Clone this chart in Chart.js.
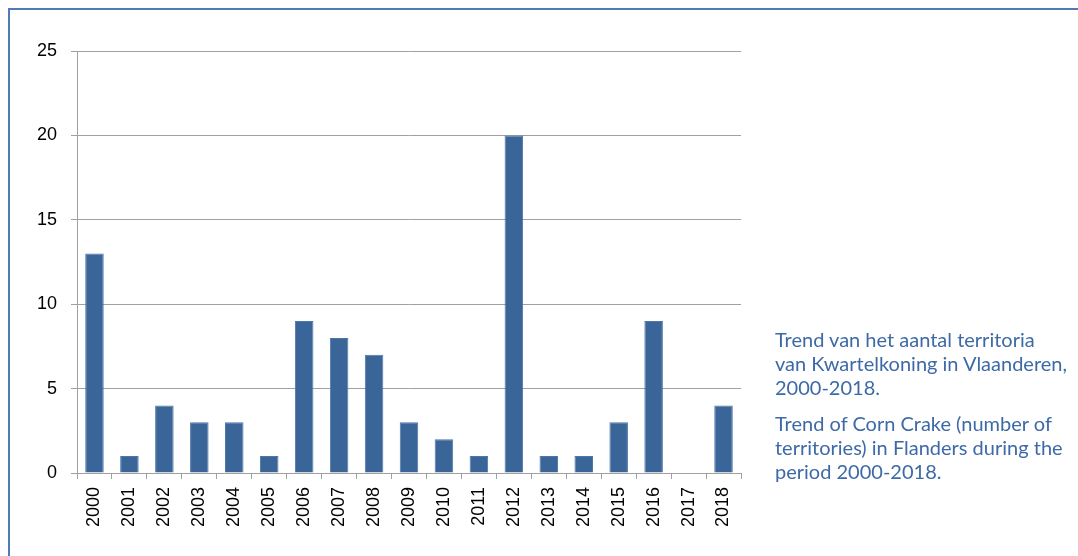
<!DOCTYPE html>
<html>
<head>
<meta charset="utf-8">
<script src="https://cdn.jsdelivr.net/npm/chart.js@4.4.0/dist/chart.umd.min.js"></script>
<style>
  html, body { margin: 0; padding: 0; background: #fff; overflow: hidden; }
  #wrap { position: relative; width: 1078px; height: 556px; }
  #frame { position: absolute; left: 8px; top: 8px; width: 1200px; height: 1000px;
           border-top: 2px solid #4f7bb8; border-left: 2px solid #4f7bb8; }
  #chart { position: absolute; left: 0; top: 0; }
  .note { position: absolute; left: 775px; width: 303px; font-family: Lato, sans-serif;
          font-size: 20px; line-height: 24px; color: #3d6aa6; white-space: nowrap; }
</style>
</head>
<body>
<div id="wrap">
  <div id="frame"></div>
  <canvas id="chart" width="1078" height="556"></canvas>
  <div class="note" style="top:327px">Trend van het aantal territoria<br>van Kwartelkoning in Vlaanderen,<br>2000-2018.</div>
  <div class="note" style="top:411px">Trend of Corn Crake (number of<br>territories) in Flanders during the<br>period 2000-2018.</div>
</div>
<script>
// territories of Corn Crake per year
const years = ['2000', '2001', '2002', '2003', '2004', '2005', '2006', '2007', '2008', '2009',
               '2010', '2011', '2012', '2013', '2014', '2015', '2016', '2017', '2018'];
const territories = [13, 1, 4, 3, 3, 1, 9, 8, 7, 3, 2, 1, 20, 1, 1, 3, 9, 0, 4];
const yTicks = [0, 5, 10, 15, 20, 25];

function drawChart() {
    let ctx = document.getElementById('chart').getContext('2d');
    new Chart(ctx, {
        type: 'bar',
        data: {
            labels: years,
            datasets: [{
                data: territories,
                backgroundColor: '#3a6598',
                borderColor: '#4d76a8',
                borderWidth: 1,
                barPercentage: 0.53,
                categoryPercentage: 1
            }]
        },
        options: {
            responsive: false,
            animation: false,
            layout: { padding: { left: 0, right: 337, top: 51, bottom: 0 } },
            plugins: { legend: { display: false }, tooltip: { enabled: false } },
            scales: {
                x: {
                    afterFit: function(scale) { scale.height = 83; },
                    grid: { drawOnChartArea: false, offset: true, tickLength: 6, color: '#a0a0a0' },
                    border: { color: '#a0a0a0', width: 1 },
                    ticks: {
                        minRotation: 90, maxRotation: 90, padding: 8,
                        color: '#000', font: { family: 'Liberation Sans', size: 18 }
                    }
                },
                y: {
                    min: 0, max: 25,
                    afterFit: function(scale) { scale.width = 77; },
                    afterBuildTicks: function(scale) { scale.ticks = yTicks.map(v => ({ value: v })); },
                    grid: { tickLength: 6, color: '#a0a0a0' },
                    border: { color: '#a0a0a0', width: 1 },
                    ticks: {
                        padding: 14, color: '#000',
                        font: { family: 'Liberation Sans', size: 18 }
                    }
                }
            }
        }
    });
}

drawChart();
</script>
</body>
</html>
